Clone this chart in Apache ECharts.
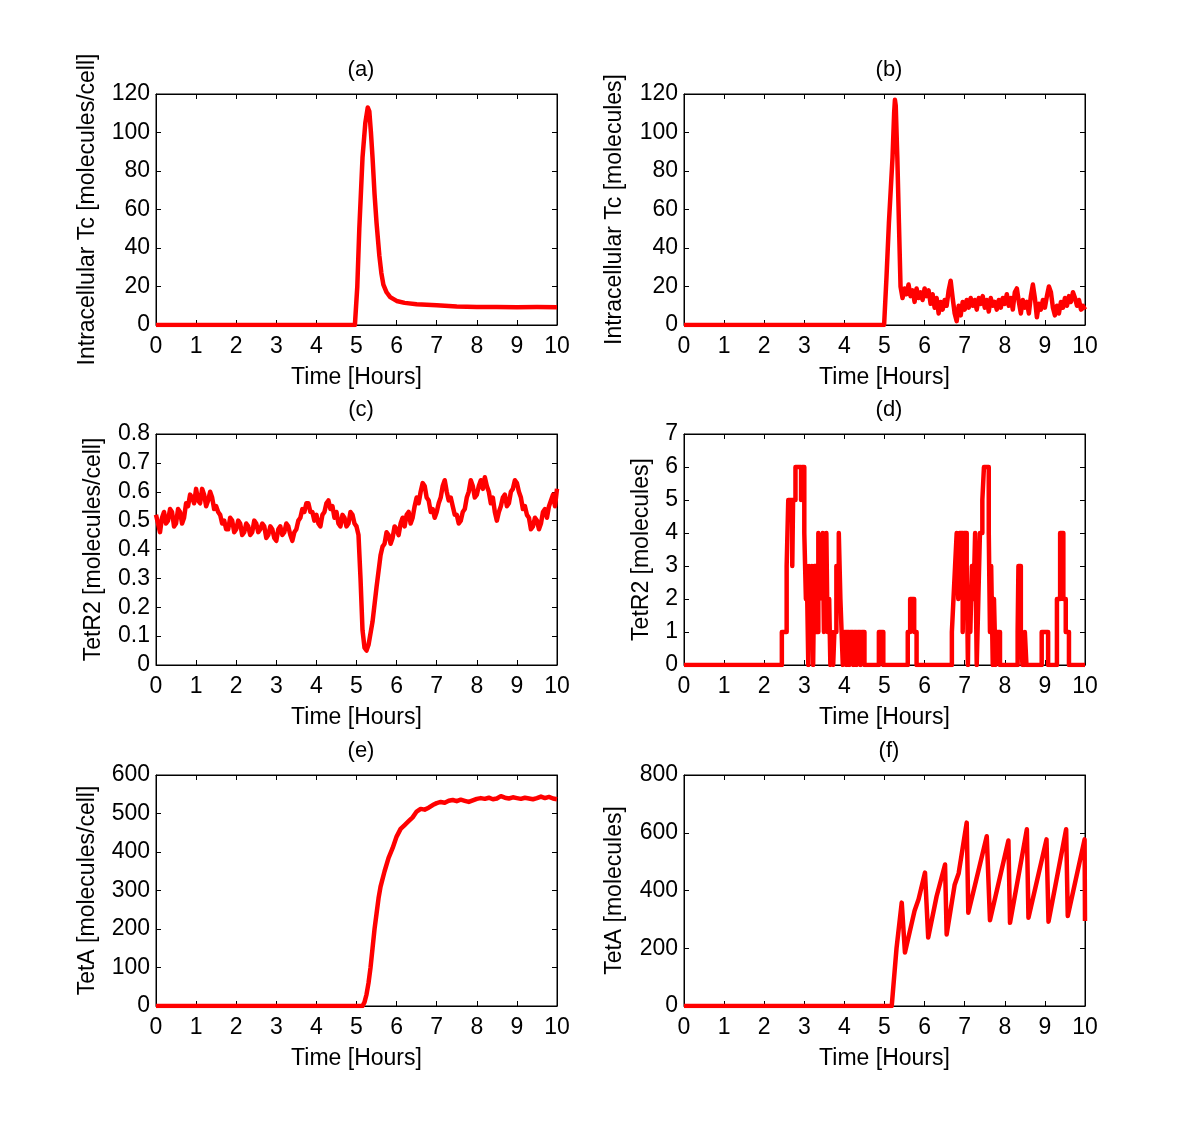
<!DOCTYPE html>
<html><head><meta charset="utf-8">
<script src="https://cdn.jsdelivr.net/npm/echarts@6/dist/echarts.min.js"></script>
<style>html,body{margin:0;padding:0;background:#fff}#c{width:1200px;height:1138px}</style>
</head><body><div id="c"></div>
<script>
// (a) Intracellular Tc, deterministic
const tA = [0, 4.96, 5.02, 5.07, 5.15, 5.22, 5.28, 5.32, 5.36, 5.40, 5.45, 5.50, 5.57, 5.62, 5.67, 5.75, 5.84, 6.0, 6.2, 6.5, 7.0, 7.5, 8.0, 8.5, 9.0, 9.5, 10];
const vA = [0, 0, 20, 50, 87, 105, 113, 111, 100, 87, 68, 53, 36, 27, 21, 17, 14.5, 12.5, 11.5, 10.8, 10.2, 9.6, 9.4, 9.3, 9.2, 9.3, 9.2];

// (b) Intracellular Tc, stochastic
const tB = [0, 4.99, 5.05, 5.11, 5.20, 5.24, 5.26, 5.28, 5.32, 5.36, 5.40,
  5.45, 5.50, 5.55, 5.60, 5.65, 5.70, 5.75, 5.80, 5.85, 5.90, 5.95, 6.00, 6.05, 6.10, 6.15, 6.20, 6.25, 6.30, 6.35, 6.40, 6.45, 6.50, 6.55, 6.60, 6.65, 6.70, 6.75, 6.80, 6.85, 6.90, 6.95,
  7.00, 7.05, 7.10, 7.15, 7.20, 7.25, 7.30, 7.35, 7.40, 7.45, 7.50, 7.55, 7.60, 7.65, 7.70, 7.75, 7.80, 7.85, 7.90, 7.95,
  8.00, 8.05, 8.10, 8.15, 8.20, 8.25, 8.30, 8.35, 8.40, 8.45, 8.50, 8.55, 8.60, 8.65, 8.70, 8.75, 8.80, 8.85, 8.90, 8.95,
  9.00, 9.05, 9.10, 9.15, 9.20, 9.25, 9.30, 9.35, 9.40, 9.45, 9.50, 9.55, 9.60, 9.65, 9.70, 9.75, 9.80, 9.85, 9.90, 9.95, 10.00];
const vB = [0, 0, 25, 53, 87, 110, 117, 114, 87, 53, 20,
  14, 19, 16, 21, 15, 18, 12, 19, 14, 17, 13, 19, 15, 18, 11, 16, 9, 14, 6, 12, 8, 13, 10, 18, 23, 14, 6, 2, 10, 5, 12,
  8, 13, 9, 14, 10, 13, 8, 14, 11, 15, 9, 13, 7, 14, 10, 12, 8, 13, 9, 14,
  11, 16, 10, 14, 8, 17, 19, 12, 6, 13, 9, 12, 6, 15, 21, 14, 4, 11, 8, 13,
  9, 15, 20, 17, 9, 5, 10, 6, 12, 9, 14, 10, 15, 12, 17, 14, 10, 13, 8, 10, 8];

// (c) TetR2 per cell
const tC = [0, 0.05, 0.1, 0.15, 0.2, 0.25, 0.3, 0.35, 0.4, 0.45, 0.5, 0.55, 0.6, 0.65, 0.7, 0.75, 0.8, 0.85, 0.9, 0.95,
  1.0, 1.05, 1.1, 1.15, 1.2, 1.25, 1.3, 1.35, 1.4, 1.45, 1.5, 1.55, 1.6, 1.65, 1.7, 1.75, 1.8, 1.85, 1.9, 1.95,
  2.0, 2.05, 2.1, 2.15, 2.2, 2.25, 2.3, 2.35, 2.4, 2.45, 2.5, 2.55, 2.6, 2.65, 2.7, 2.75, 2.8, 2.85, 2.9, 2.95,
  3.0, 3.05, 3.1, 3.15, 3.2, 3.25, 3.3, 3.35, 3.4, 3.45, 3.5, 3.55, 3.6, 3.65, 3.7, 3.75, 3.8, 3.85, 3.9, 3.95,
  4.0, 4.05, 4.1, 4.15, 4.2, 4.25, 4.3, 4.35, 4.4, 4.45, 4.5, 4.55, 4.6, 4.65, 4.7, 4.75, 4.8, 4.85, 4.9, 4.95,
  5.0, 5.05, 5.1, 5.15, 5.2, 5.25, 5.3, 5.4, 5.5, 5.6, 5.65, 5.7, 5.75,
  5.8, 5.85, 5.9, 5.95, 6.0, 6.05, 6.1, 6.15, 6.2, 6.25, 6.3, 6.35, 6.4, 6.45, 6.5, 6.55, 6.6, 6.65, 6.7, 6.75, 6.8, 6.85, 6.9, 6.95,
  7.0, 7.05, 7.1, 7.15, 7.2, 7.25, 7.3, 7.35, 7.4, 7.45, 7.5, 7.55, 7.6, 7.65, 7.7, 7.75, 7.8, 7.85, 7.9, 7.95,
  8.0, 8.05, 8.1, 8.15, 8.2, 8.25, 8.3, 8.35, 8.4, 8.45, 8.5, 8.55, 8.6, 8.65, 8.7, 8.75, 8.8, 8.85, 8.9, 8.95,
  9.0, 9.05, 9.1, 9.15, 9.2, 9.25, 9.3, 9.35, 9.4, 9.45, 9.5, 9.55, 9.6, 9.65, 9.7, 9.75, 9.8, 9.85, 9.9, 9.95, 10.0];
const vC = [0.52, 0.49, 0.46, 0.51, 0.53, 0.49, 0.50, 0.54, 0.53, 0.48, 0.49, 0.54, 0.53, 0.49, 0.51, 0.56, 0.55, 0.59, 0.58, 0.56,
  0.61, 0.57, 0.56, 0.61, 0.59, 0.55, 0.57, 0.60, 0.58, 0.54, 0.55, 0.53, 0.52, 0.49, 0.50, 0.47, 0.47, 0.51, 0.50, 0.46,
  0.47, 0.50, 0.49, 0.45, 0.46, 0.49, 0.48, 0.45, 0.46, 0.50, 0.49, 0.46, 0.47, 0.49, 0.48, 0.44, 0.45, 0.48, 0.47, 0.44,
  0.43, 0.47, 0.48, 0.45, 0.46, 0.49, 0.48, 0.45, 0.43, 0.46, 0.47, 0.50, 0.51, 0.54, 0.53, 0.56, 0.56, 0.53, 0.53, 0.50,
  0.52, 0.49, 0.48, 0.52, 0.53, 0.56, 0.57, 0.54, 0.55, 0.51, 0.53, 0.49, 0.48, 0.52, 0.51, 0.48, 0.49, 0.53, 0.52, 0.49,
  0.48, 0.45, 0.30, 0.12, 0.06, 0.05, 0.07, 0.15, 0.27, 0.38, 0.41, 0.42, 0.46,
  0.45, 0.42, 0.44, 0.48, 0.47, 0.45, 0.49, 0.51, 0.48, 0.52, 0.53, 0.49, 0.51, 0.55, 0.58, 0.56, 0.60, 0.63, 0.62, 0.58, 0.57, 0.53, 0.54, 0.51,
  0.53, 0.56, 0.58, 0.62, 0.64, 0.60, 0.57, 0.58, 0.55, 0.52, 0.52, 0.49, 0.50, 0.53, 0.54, 0.58, 0.60, 0.64, 0.62, 0.58,
  0.59, 0.62, 0.64, 0.61, 0.65, 0.62, 0.60, 0.56, 0.58, 0.53, 0.50, 0.53, 0.55, 0.58, 0.59, 0.55, 0.56, 0.60, 0.61, 0.64,
  0.63, 0.60, 0.58, 0.54, 0.55, 0.52, 0.51, 0.47, 0.48, 0.51, 0.50, 0.47, 0.49, 0.53, 0.54, 0.51, 0.55, 0.57, 0.59, 0.55, 0.61];

// (d) TetR2 molecules (step changes)
const tD = [0, 2.44, 2.56, 2.60, 2.70, 2.72, 2.78, 2.92, 2.95, 3.00, 3.04, 3.06, 3.10, 3.12, 3.16, 3.19, 3.22, 3.25, 3.30, 3.35,
  3.38, 3.41, 3.46, 3.49, 3.52, 3.55, 3.58, 3.62, 3.65, 3.68, 3.72, 3.75, 3.80, 3.86, 3.90, 3.93, 3.96, 4.00, 4.05, 4.07,
  4.12, 4.15, 4.22, 4.25, 4.30, 4.33, 4.40, 4.43, 4.50, 4.86, 4.97, 5.58, 5.64, 5.74, 5.80, 6.68, 6.72, 6.76, 6.80, 6.84,
  6.87, 6.95, 6.98, 7.05, 7.08, 7.10, 7.14, 7.18, 7.22, 7.26, 7.30, 7.34, 7.38, 7.44, 7.48, 7.60, 7.63, 7.66, 7.70, 7.73,
  7.77, 7.80, 7.88, 8.32, 8.34, 8.40, 8.44, 8.50, 8.54, 8.92, 9.08, 9.30, 9.38, 9.46, 9.52, 9.60, 10];
const vD = [0, 1, 3, 5, 3, 5, 6, 5, 6, 4, 2, 3, 0, 3, 1, 3, 0, 3, 1, 4,
  2, 3, 4, 1, 2, 4, 1, 2, 0, 1, 0, 1, 3, 4, 2, 1, 0, 1, 0, 1,
  0, 1, 0, 1, 0, 1, 0, 1, 0, 1, 0, 1, 2, 1, 0, 1, 2, 3, 4, 2,
  4, 1, 4, 3, 0, 2, 1, 3, 2, 4, 0, 2, 4, 5, 6, 4, 1, 3, 0, 2,
  0, 1, 0, 1, 3, 1, 0, 1, 0, 1, 0, 2, 4, 2, 1, 0, 0];

// (e) TetA per cell
const tE = [0, 5.15, 5.2, 5.25, 5.3, 5.35, 5.4, 5.45, 5.5, 5.55, 5.6, 5.7, 5.8, 5.9, 6.0, 6.1, 6.2, 6.3, 6.4, 6.5, 6.6, 6.7, 6.8, 6.9,
  7.0, 7.1, 7.2, 7.3, 7.4, 7.5, 7.6, 7.7, 7.8, 7.9, 8.0, 8.1, 8.2, 8.3, 8.4, 8.5, 8.6, 8.7, 8.8, 8.9, 9.0, 9.1, 9.2, 9.3, 9.4, 9.5, 9.6, 9.7, 9.8, 9.9, 10.0];
const vE = [0, 0, 10, 30, 60, 100, 150, 200, 240, 280, 310, 350, 385, 410, 440, 460, 470, 480, 490, 505, 512, 510, 515, 522,
  527, 530, 528, 533, 535, 532, 536, 533, 530, 534, 538, 540, 538, 541, 537, 539, 545, 541, 539, 542, 540, 538, 541, 539, 537, 540, 544, 540, 543, 539, 537];

// (f) TetA molecules (sawtooth)
const tF = [0, 5.18, 5.30, 5.43, 5.51, 5.75, 5.85, 6.01, 6.09, 6.30, 6.51, 6.55, 6.75, 6.85, 7.05, 7.09, 7.55, 7.63, 8.09, 8.13, 8.55, 8.59, 9.04, 9.09, 9.53, 9.57, 9.99, 10.0];
const vF = [0, 0, 200, 358, 185, 330, 370, 462, 237, 380, 490, 248, 420, 460, 635, 323, 588, 297, 573, 288, 612, 306, 577, 292, 612, 312, 577, 294];

const FONT = 'Liberation Sans, Arial, sans-serif';
const panels = [
  {title:'(a)', yName:'Intracellular Tc [molecules/cell]', ymax:120, yint:20, t:tA, v:vA, step:false, col:0, row:0, gap:57},
  {title:'(b)', yName:'Intracellular Tc [molecules]', ymax:120, yint:20, t:tB, v:vB, step:false, col:1, row:0, gap:58},
  {title:'(c)', yName:'TetR2 [molecules/cell]', ymax:0.8, yint:0.1, t:tC, v:vC, step:false, col:0, row:1, gap:51},
  {title:'(d)', yName:'TetR2 [molecules]', ymax:7, yint:1, t:tD, v:vD, step:true, col:1, row:1, gap:31},
  {title:'(e)', yName:'TetA [molecules/cell]', ymax:600, yint:100, t:tE, v:vE, step:false, col:0, row:2, gap:57},
  {title:'(f)', yName:'TetA [molecules]', ymax:800, yint:200, t:tF, v:vF, step:false, col:1, row:2, gap:58}
];

function tick(){ return {show:true, inside:true, length:5, lineStyle:{color:'#000', width:1}}; }
function aline(){ return {show:true, onZero:false, lineStyle:{color:'#000', width:1}}; }

const grids=[], xAxes=[], yAxes=[], series=[], titles=[];
panels.forEach((p,i)=>{
  const left = p.col ? 684 : 156;
  const top = [94,434,775][p.row];
  grids.push({left:left, top:top, width:401, height:231, show:true, borderColor:'#000', borderWidth:1, backgroundColor:'#fff', containLabel:false});
  xAxes.push({gridIndex:i, type:'value', position:'bottom', min:0, max:10, interval:1,
    name:'Time [Hours]', nameLocation:'middle', nameGap:41,
    nameTextStyle:{fontFamily:FONT, fontSize:23, color:'#000'},
    axisLine:aline(), axisTick:tick(), splitLine:{show:false},
    axisLabel:{margin:10, fontSize:23, color:'#000', fontFamily:FONT}});
  xAxes.push({gridIndex:i, type:'value', position:'top', min:0, max:10, interval:1,
    axisLine:aline(), axisTick:tick(), splitLine:{show:false}, axisLabel:{show:false}});
  yAxes.push({gridIndex:i, type:'value', position:'left', min:0, max:p.ymax, interval:p.yint,
    name:p.yName, nameLocation:'middle', nameGap:p.gap, nameRotate:90,
    nameTextStyle:{fontFamily:FONT, fontSize:23, color:'#000'},
    axisLine:aline(), axisTick:tick(), splitLine:{show:false},
    axisLabel:{margin:6, fontSize:23, color:'#000', fontFamily:FONT, padding:[5,0,0,0]}});
  yAxes.push({gridIndex:i, type:'value', position:'right', min:0, max:p.ymax, interval:p.yint,
    axisLine:aline(), axisTick:tick(), splitLine:{show:false}, axisLabel:{show:false}});
  titles.push({text:p.title, left:left+200, top:top-40, textAlign:'center',
    textStyle:{fontFamily:FONT, fontSize:22, fontWeight:'normal', color:'#000'}});
  series.push({type:'line', xAxisIndex:2*i, yAxisIndex:2*i,
    data:p.t.map((t,k)=>[t,p.v[k]]), showSymbol:false, symbol:'none',
    step:p.step ? 'end' : false, clip:true,
    lineStyle:{color:'#ff0000', width:4.5, join:'round'}});
});

const chart = echarts.init(document.getElementById('c'), null, {renderer:'canvas'});
chart.setOption({
  animation:false, backgroundColor:'#fff',
  title:titles, grid:grids, xAxis:xAxes, yAxis:yAxes, series:series
});
</script>
</body></html>
